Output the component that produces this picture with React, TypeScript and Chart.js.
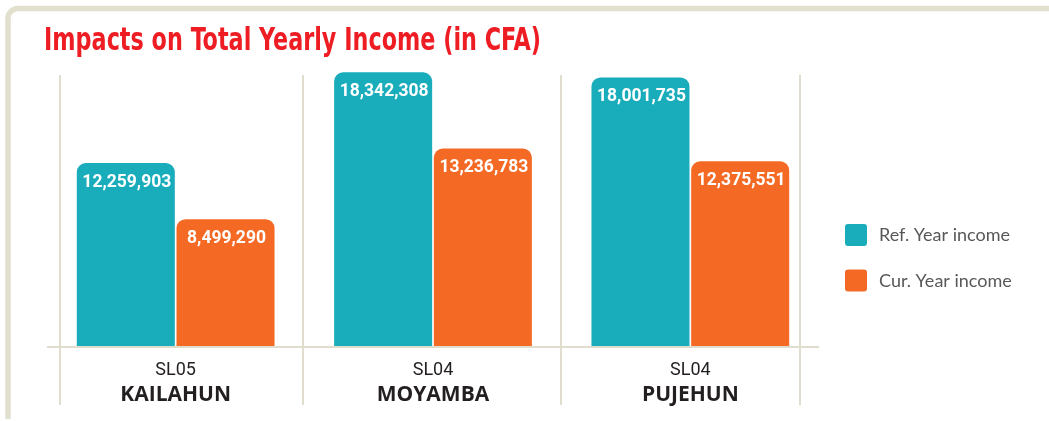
import React, { useEffect, useRef } from "react";
import { Chart, registerables } from "chart.js";

Chart.register(...registerables);

const titleText = "Impacts on Total Yearly Income (in CFA)";
const siteCodes = ["SL05", "SL04", "SL04"];
const districts = ["KAILAHUN", "MOYAMBA", "PUJEHUN"];
const refYearIncome = [12259903, 18342308, 18001735];
const curYearIncome = [8499290, 13236783, 12375551];
const seriesNames = ["Ref. Year income", "Cur. Year income"];
const seriesColors = ["#19adbb", "#f46a25"];
const yMax = 18500000;

const FRAME = "#e2dfcd";
const GRID = "#e0ddcf";

const decorPlugin = {
  id: "decor",
  beforeDraw(chart: any) {
    const ctx = chart.ctx;
    const { left, right, top, bottom } = chart.chartArea;
    ctx.save();
    ctx.fillStyle = "#ffffff";
    ctx.fillRect(0, 0, chart.width, chart.height);
    // frame
    ctx.strokeStyle = FRAME;
    ctx.lineWidth = 5.5;
    ctx.beginPath();
    ctx.moveTo(8, 419);
    ctx.lineTo(8, 8.5 + 10);
    ctx.arcTo(8, 8.5, 18, 8.5, 10);
    ctx.lineTo(chart.width + 5, 8.5);
    ctx.stroke();
    // title
    ctx.fillStyle = "#ee1d23";
    ctx.font = "bold 32px 'Liberation Sans Narrow', 'DejaVu Sans Condensed', Roboto, sans-serif";
    ctx.textBaseline = "alphabetic";
    ctx.textAlign = "left";
    const w = ctx.measureText(titleText).width;
    const sx = 497 / w;
    ctx.save();
    ctx.translate(44, 49.5);
    ctx.scale(sx, 1);
    ctx.fillText(titleText, 0, 0);
    ctx.restore();
    // grid lines
    const xs = chart.scales.x;
    const n = siteCodes.length;
    const half = (xs.getPixelForValue(1) - xs.getPixelForValue(0)) / 2;
    const lines: number[] = [left + 14];
    for (let i = 0; i < n - 1; i++) lines.push(xs.getPixelForValue(i) + half);
    lines.push(right - 18);
    ctx.strokeStyle = GRID;
    ctx.lineWidth = 2;
    lines.forEach((lx) => {
      ctx.beginPath();
      ctx.moveTo(Math.round(lx) - 1, top + 5);
      ctx.lineTo(Math.round(lx) - 1, 405);
      ctx.stroke();
    });
    ctx.beginPath();
    ctx.moveTo(left, bottom + 1);
    ctx.lineTo(right, bottom + 1);
    ctx.stroke();
    // x labels
    ctx.fillStyle = "#231f20";
    ctx.textAlign = "center";
    ctx.textBaseline = "middle";
    for (let i = 0; i < n; i++) {
      const cx = xs.getPixelForValue(i);
      ctx.font = "18px Roboto, sans-serif";
      ctx.fillText(siteCodes[i], cx, 370);
      ctx.font = "bold 21px 'Open Sans', sans-serif";
      ctx.fillText(districts[i], cx, 395);
    }
    // legend
    seriesNames.forEach((name, i) => {
      const y = 224 + i * 45.5;
      ctx.fillStyle = seriesColors[i];
      ctx.beginPath();
      (ctx as any).roundRect(845, y, 22, 22, 3);
      ctx.fill();
      ctx.fillStyle = "#58585a";
      ctx.font = "18px Lato, sans-serif";
      ctx.textAlign = "left";
      ctx.textBaseline = "middle";
      ctx.fillText(name, 879, y + 11.5);
    });
    ctx.restore();
  },
  afterDatasetsDraw(chart: any) {
    const ctx = chart.ctx;
    ctx.save();
    ctx.fillStyle = "#ffffff";
    ctx.font = "bold 17.5px Roboto, sans-serif";
    ctx.textAlign = "center";
    ctx.textBaseline = "middle";
    chart.data.datasets.forEach((ds: any, di: number) => {
      const meta = chart.getDatasetMeta(di);
      meta.data.forEach((bar: any, i: number) => {
        ctx.fillText(Number(ds.data[i]).toLocaleString("en-US"), bar.x + 1, bar.y + 19.5);
      });
    });
    ctx.restore();
  },
};

export default function App() {
  const ref = useRef<HTMLCanvasElement | null>(null);
  useEffect(() => {
    if (!ref.current) return;
    const chart = new Chart(ref.current, {
      type: "bar",
      data: {
        labels: districts,
        datasets: [
          {
            label: seriesNames[0],
            data: refYearIncome,
            backgroundColor: seriesColors[0],
            borderRadius: { topLeft: 9, topRight: 9, bottomLeft: 0, bottomRight: 0 },
            borderSkipped: false,
            categoryPercentage: 0.775,
            barPercentage: 0.983,
          },
          {
            label: seriesNames[1],
            data: curYearIncome,
            backgroundColor: seriesColors[1],
            borderRadius: { topLeft: 9, topRight: 9, bottomLeft: 0, bottomRight: 0 },
            borderSkipped: false,
            categoryPercentage: 0.775,
            barPercentage: 0.983,
          },
        ],
      },
      options: {
        responsive: false,
        animation: false,
        layout: { padding: { left: 47, right: 230, top: 70, bottom: 75 } },
        plugins: { legend: { display: false }, title: { display: false }, tooltip: { enabled: false } },
        scales: {
          x: { display: false },
          y: { display: false, min: 0, max: yMax },
        },
      },
      plugins: [decorPlugin],
    });
    return () => chart.destroy();
  }, []);
  return (
    <div style={{ position: "absolute", left: 0, top: 0, width: 1049, height: 421, background: "#fff" }}>
      <canvas ref={ref} width={1049} height={421} style={{ display: "block" }} />
    </div>
  );
}
